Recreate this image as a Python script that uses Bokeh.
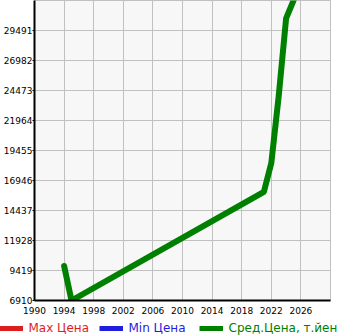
from bokeh.plotting import figure
from bokeh.models import Range1d, FixedTicker, Legend, LegendItem
from bokeh.embed import file_html
from bokeh.resources import INLINE

# ---- data ----
years = [1994, 1995, 2021, 2022, 2023, 2024, 2025]
avg_price = [9800, 6910, 16000, 18400, 24000, 30500, 32000]
max_years = []
max_price = []
min_years = []
min_price = []

x_ticks = [1990, 1994, 1998, 2002, 2006, 2010, 2014, 2018, 2022, 2026]
y_ticks = [6910, 9419, 11928, 14437, 16946, 19455, 21964, 24473, 26982, 29491]
x_bounds = [1990, 2030]
y_bounds = [6910, 32000]
series_labels = ["Max Цена", "Min Цена", "Сред.Цена, т.йен"]
series_colors = ["#dc1e1e", "#1e1edc", "#008000"]

FONT = "DejaVu Sans"
NAN = float("nan")

p = figure(width=345, height=318,
           x_range=Range1d(*x_bounds), y_range=Range1d(*y_bounds),
           output_backend="svg", toolbar_location=None,
           min_border_left=30, min_border_right=15,
           min_border_top=0, min_border_bottom=18,
           background_fill_color="#f7f7f7", border_fill_color="white",
           outline_line_color="#c0c0c0", outline_line_width=1)

p.line(max_years, max_price, line_color=series_colors[0], line_width=6)
p.line(min_years, min_price, line_color=series_colors[1], line_width=6)
p.line(years, avg_price, line_color=series_colors[2], line_width=6,
       line_cap="round", line_join="round")

for ax, ticks in ((p.xaxis[0], x_ticks), (p.yaxis[0], y_ticks)):
    ax.ticker = FixedTicker(ticks=ticks)
    ax.axis_line_color = "black"
    ax.axis_line_width = 2
    ax.major_tick_line_color = "black"
    ax.minor_tick_line_color = None
    ax.major_tick_in = 0
    ax.major_label_text_font = FONT
    ax.major_label_text_font_size = "9px"
    ax.major_label_text_color = "black"

p.xaxis.major_tick_out = 0
p.xaxis.major_label_standoff = 6
p.yaxis.major_tick_out = 2
p.yaxis.major_label_standoff = 0
p.yaxis.major_label_text_baseline = "bottom"

p.grid.grid_line_color = "#c0c0c0"
p.grid.grid_line_width = 1

# ---- legend strip (separate root, no frame alignment) ----
leg = figure(width=345, height=17, x_range=Range1d(0, 1), y_range=Range1d(0, 1),
             output_backend="svg", toolbar_location=None,
             x_axis_location=None, y_axis_location=None,
             min_border=0, min_border_left=0, min_border_right=0,
             min_border_top=0, min_border_bottom=0,
             outline_line_color=None, background_fill_color="white",
             border_fill_color="white")
leg.grid.visible = False

swatches = [leg.line([NAN], [NAN], line_color=c, line_width=5) for c in series_colors]

for i, (lab, col, rend) in enumerate(zip(series_labels, series_colors, swatches)):
    lg = Legend(items=[LegendItem(label=lab, renderers=[rend])],
                location=(-1.5 + 100 * i, 0),
                orientation="horizontal", padding=0, margin=0, spacing=0,
                glyph_width=24, glyph_height=12, label_width=70, label_height=12,
                label_standoff=6, border_line_color=None, background_fill_alpha=0,
                label_text_font=FONT, label_text_font_size="12px",
                label_text_color=col)
    leg.add_layout(lg)

open("out.html", "w").write(file_html([p, leg], INLINE))
